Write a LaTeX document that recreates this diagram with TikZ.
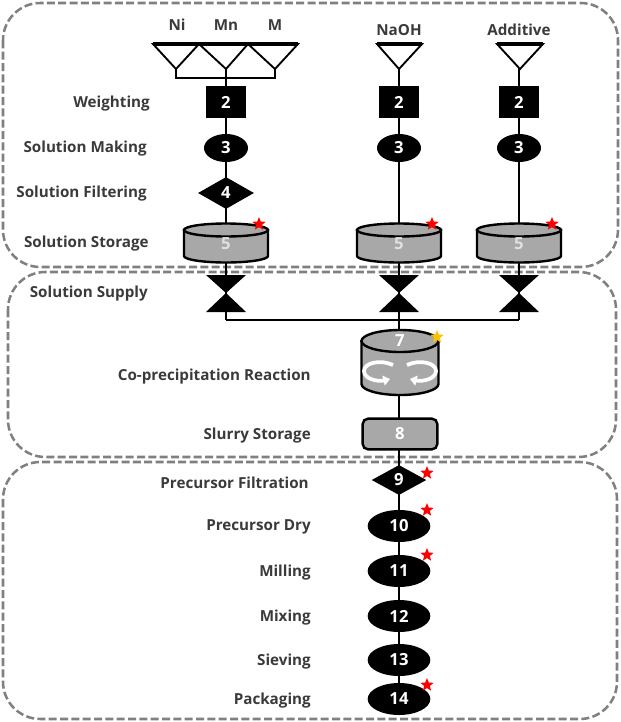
\documentclass[tikz,border=0pt]{standalone}
\usepackage{fontspec}
\setmainfont{Open Sans}
\usetikzlibrary{shapes.geometric,backgrounds,arrows.meta}
\definecolor{txtgray}{HTML}{3A3A3A}
\definecolor{boxgray}{HTML}{808080}
\definecolor{tankgray}{HTML}{A8A8A8}
\definecolor{gold}{HTML}{FFC000}
\tikzset{
  zone/.style={draw=boxgray, line width=1.9pt, dash pattern=on 6pt off 2.5pt, rounded corners=28pt},
  lbl/.style={font=\bfseries\fontsize{11.4pt}{13pt}\selectfont, text=txtgray, inner sep=0pt, text height=1.5ex, text depth=0.45ex, yshift=-1.5pt},
  num/.style={font=\bfseries\fontsize{12.5pt}{13pt}\selectfont, text=white, inner sep=0pt},
  blkbox/.style={num, rectangle, fill=black, minimum width=30pt, minimum height=24pt},
  blkell/.style={num, ellipse, fill=black, minimum width=33pt, minimum height=21pt},
  blkdia/.style={num, diamond, fill=black, minimum width=42pt, minimum height=24pt},
  bigell/.style={num, ellipse, fill=black, minimum width=47pt, minimum height=24pt},
  bigdia/.style={num, diamond, fill=black, minimum width=41pt, minimum height=22.5pt},
  tankst/.style={fill=tankgray, draw=black, line width=1.8pt},
  conn/.style={draw=black, line width=0.8pt},
  tri/.style={draw=black, line width=1.4pt, fill=white, line join=miter},
  valve/.style={fill=black},
  redstar/.style={star, star points=5, star point ratio=2.3, fill=red, minimum size=10.5pt, inner sep=0pt},
  goldstar/.style={star, star points=5, star point ratio=2.3, fill=gold, minimum size=10.5pt, inner sep=0pt},
}
\newcommand{\tankshape}[5]{%
  \filldraw[tankst] ({#1-#4},#2) -- ({#1-#4},#3) arc[start angle=180,end angle=0,x radius=#4,y radius=#5] -- ({#1+#4},#2) -- cycle;
  \filldraw[tankst] (#1,#2) ellipse[x radius=#4, y radius=#5];}
\newcommand{\valveshape}[2]{%
  \fill[valve] ({#1-20},{#2-18}) -- ({#1+20},{#2-18}) -- (#1,#2) -- cycle;
  \fill[valve] ({#1-20},{#2+19}) -- ({#1+20},{#2+19}) -- (#1,#2) -- cycle;}
\newcommand{\hopper}[3]{% left x, right x, apex x
  \filldraw[tri] (#1,44) -- (#3,69) -- (#2,44) -- cycle;
  \draw[line width=2.6pt] (#1,44) -- (#2,44);}
\begin{document}
\begin{tikzpicture}[x=0.75pt,y=-0.75pt]
\useasboundingbox (0,0) rectangle (621,722);
% zones
\draw[zone] (3,3) rectangle (618,267);
\draw[zone] (8,272) rectangle (616,457);
\draw[zone] (3,462) rectangle (617,719);

% top labels
\node[lbl] (tNi) at (177,25) {Ni};
\node[lbl] (tMn) at (226,25) {Mn};
\node[lbl] (tM) at (275,25) {M};
\node[lbl] (tNa) at (399,30) {NaOH};
\node[lbl] (tAd) at (519,30) {Additive};

% step labels
\node[lbl, anchor=east] (lW) at (150,102) {Weighting};
\node[lbl, anchor=east] (lSM) at (147,147) {Solution Making};
\node[lbl, anchor=east] (lSF) at (147,192) {Solution Filtering};
\node[lbl, anchor=east] (lSS) at (149,242) {Solution Storage};
\node[lbl, anchor=east] (lSup) at (148,292) {Solution Supply};
\node[lbl, anchor=east] (lCo) at (311,375) {Co-precipitation Reaction};
\node[lbl, anchor=east] (lSl) at (311,434) {Slurry Storage};
\node[lbl, anchor=east] (lPF) at (309,483) {Precursor Filtration};
\node[lbl, anchor=east] (lPD) at (311,525) {Precursor Dry};
\node[lbl, anchor=east] (lMi) at (311,571) {Milling};
\node[lbl, anchor=east] (lMx) at (311,616) {Mixing};
\node[lbl, anchor=east] (lSv) at (311,660) {Sieving};
\node[lbl, anchor=east] (lPk) at (311,699) {Packaging};

% coordinates
\coordinate (aNi) at (176,69);
\coordinate (aMn) at (226,69);
\coordinate (aM) at (275,69);
\coordinate (bNi) at (176,78);
\coordinate (bM) at (275,78);
\coordinate (aNa) at (399,68);
\coordinate (aAd) at (519,68);
\coordinate (hL) at (226,320);
\coordinate (hC) at (399,320);
\coordinate (hR) at (519,320);

% connectors (behind)
\draw[conn] (aNi) -- (bNi) -- (bM) -- (aM);
\draw[conn] (aMn) -- (hL);
\draw[conn] (aNa) -- (399,420);
\draw[conn] (aAd) -- (hR);
\draw[conn] (hL) -- (hR);
\draw[conn] (399,450) -- (399,699);

% hoppers
\hopper{153}{199}{176}
\hopper{199}{248}{226}
\hopper{248}{298}{275}
\hopper{377}{422}{399}
\hopper{497}{543}{520}

% column 1
\node[blkbox] (w1) at (226,102) {2};
\node[blkell] (m1) at (226,148) {3};
\node[blkdia] (f1) at (226,193) {4};
\tankshape{226}{230}{256}{42}{6.5}
\node[num, text=white!88!black] (s1) at (226,244) {5};
\node[redstar] (st1) at (259,224) {};
\valveshape{226}{293}
\coordinate (v1) at (226,293);

% column 2
\node[blkbox] (w2) at (399,102) {2};
\node[blkell] (m2) at (399,148) {3};
\tankshape{399}{230}{256}{42}{6.5}
\node[num, text=white!88!black] (s2) at (399,244) {5};
\node[redstar] (st2) at (432,224) {};
\valveshape{399}{293}
\coordinate (v2) at (399,293);

% column 3
\node[blkbox] (w3) at (519,102) {2};
\node[blkell] (m3) at (519,148) {3};
\tankshape{519}{230}{256}{42}{6.5}
\node[num, text=white!88!black] (s3) at (519,244) {5};
\node[redstar] (st3) at (552,224) {};
\valveshape{519}{293}
\coordinate (v3) at (519,293);

% reactor
\tankshape{400}{341}{384}{38.5}{11}
\node[num] (r7) at (400,341) {7};
\node[goldstar] (st7) at (437,337) {};
\draw[white, line width=2.8pt, -{Triangle[length=5pt,width=7.5pt]}] (393,365) .. controls (380,359) and (364,363) .. (364,371) .. controls (364,379) and (378,382) .. (390,379);
\draw[white, line width=2.8pt, -{Triangle[length=5pt,width=7.5pt]}] (407,365) .. controls (420,359) and (436,363) .. (436,371) .. controls (436,379) and (422,382) .. (410,379);

% slurry storage
\node[num, rectangle, rounded corners=4pt, fill=tankgray, draw=black, line width=1.8pt, minimum width=56pt, minimum height=23pt] (b8) at (400,434) {8};

% lower chain
\node[bigdia] (d9) at (399,480) {9};
\node[bigell] (e10) at (399,526) {10};
\node[bigell] (e11) at (399,571) {11};
\node[bigell] (e12) at (399,616) {12};
\node[bigell] (e13) at (399,660) {13};
\node[bigell] (e14) at (399,699) {14};
\node[redstar] (st9) at (427,473) {};
\node[redstar] (st10) at (427,510) {};
\node[redstar] (st11) at (427,555) {};
\node[redstar] (st14) at (427,685) {};
\end{tikzpicture}
\end{document}
